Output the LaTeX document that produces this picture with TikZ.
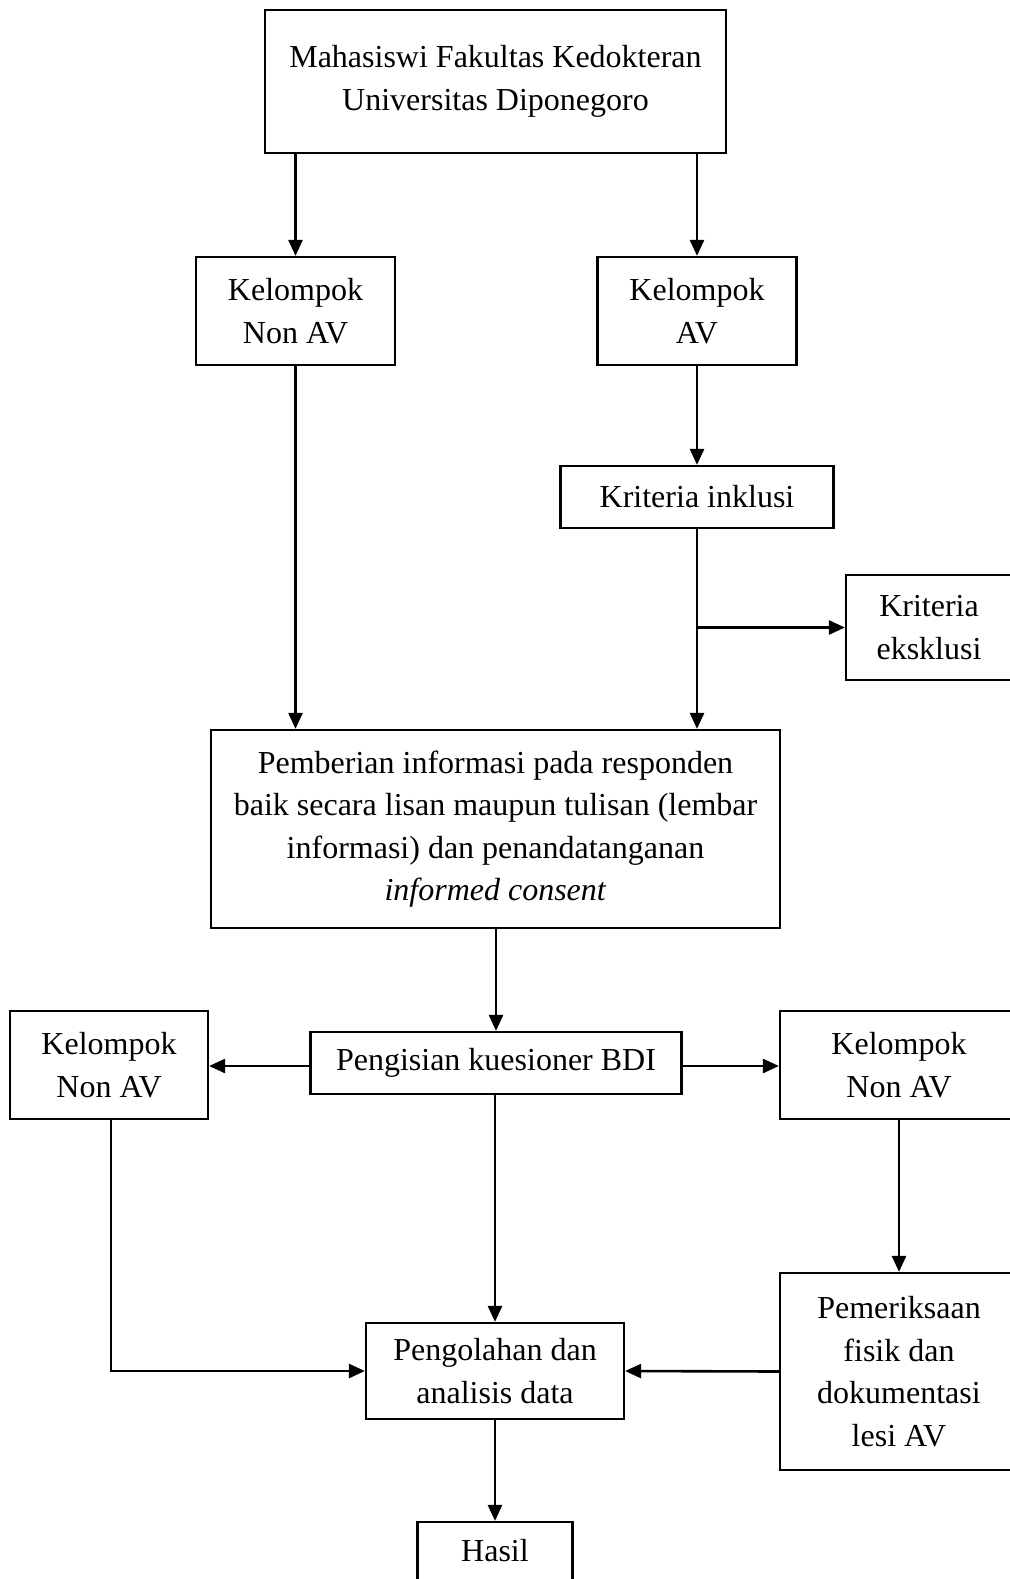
\documentclass[tikz,border=0pt]{standalone}
\usepackage{fontspec}
\setmainfont{Liberation Serif}
\usetikzlibrary{arrows.meta}
\begin{document}
\begin{tikzpicture}[x=1pt,y=-1pt,
  box/.style={draw,line width=2.2pt,rectangle,inner sep=0pt,align=center,
    font=\fontsize{32pt}{42.5pt}\selectfont},
  conn/.style={line width=2.6pt,-{Triangle[length=16pt,width=14pt]}}]
\useasboundingbox (0,0) rectangle (1009,1579);
% boxes (centre, size)
\node[box,minimum width=461pt,minimum height=143pt] (top) at (495.5,81.5)
  {Mahasiswi Fakultas Kedokteran\\Universitas Diponegoro};
\node[box,minimum width=199pt,minimum height=108pt] (nonav1) at (295.5,311)
  {Kelompok\\Non AV};
\node[box,minimum width=199pt,minimum height=108pt] (av1) at (697,311)
  {Kelompok\\AV};
\node[box,minimum width=273pt,minimum height=62pt] (inkl) at (697,497)
  {Kriteria inklusi};
\node[box,minimum width=166pt,minimum height=105pt] (eksk) at (929,627.5)
  {Kriteria\\eksklusi};
\node[box,minimum width=569pt,minimum height=198pt] (big) at (495.5,829)
  {Pemberian informasi pada responden\\baik secara lisan maupun tulisan (lembar\\informasi) dan penandatanganan\\\textit{informed consent}};
\node[box,minimum width=371pt,minimum height=62pt] (bdi) at (496,1063)
  {Pengisian kuesioner BDI};
\node[box,minimum width=198pt,minimum height=108pt] (nonav2) at (109,1065)
  {Kelompok\\Non AV};
\node[box,minimum width=238pt,minimum height=108pt] (nonav3) at (899,1065)
  {Kelompok\\Non AV};
\node[box,minimum width=238pt,minimum height=197pt] (pemer) at (899,1371.5)
  {Pemeriksaan\\fisik dan\\dokumentasi\\lesi AV};
\node[box,minimum width=258pt,minimum height=96pt] (olah) at (495,1371)
  {Pengolahan dan\\analisis data};
\node[box,minimum width=155pt,minimum height=58pt] (hasil) at (495,1551)
  {Hasil};
% connectors
\draw[conn] (top.south -| nonav1.north) -- (nonav1.north);
\draw[conn] (top.south -| av1.north) -- (av1.north);
\draw[conn] (av1.south) -- (inkl.north);
\draw[conn] (inkl.south) -- (inkl.south |- big.north);
\coordinate (br) at (inkl.south |- eksk.west);
\draw[conn] (br) -- (eksk.west);
\draw[conn] (nonav1.south) -- (nonav1.south |- big.north);
\draw[conn] (big.south -| bdi.north) -- (bdi.north);
\coordinate (bl) at (bdi.west |- 0,1066);
\draw[conn] (bl) -- (bl -| nonav2.east);
\coordinate (bri) at (bdi.east |- 0,1066);
\draw[conn] (bri) -- (bri -| nonav3.west);
\draw[conn] (bdi.south -| olah.north) -- (olah.north);
\draw[conn] (nonav2.south -| 111,0) |- (olah.west);
\draw[conn] (nonav3.south) -- (pemer.north);
\draw[conn] (pemer.west) -- (olah.east);
\draw[conn] (olah.south) -- (hasil.north);
\end{tikzpicture}
\end{document}
